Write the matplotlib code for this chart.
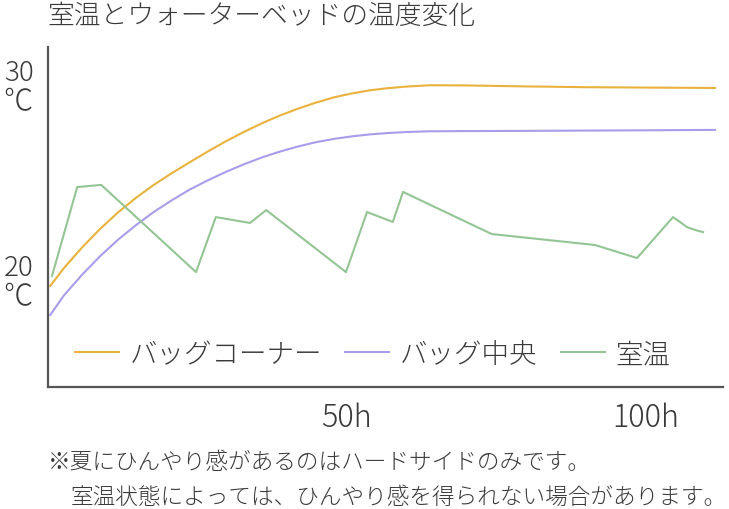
import matplotlib
matplotlib.use("Agg")
import matplotlib.pyplot as plt

plt.rcParams['font.family'] = ['Noto Sans CJK JP', 'DejaVu Sans']
plt.rcParams['font.weight'] = 'light'

# data (hours, deg C)
corner_h = [0.7, 3, 6, 9, 12, 15, 18, 21, 24, 27, 30, 33, 36, 39, 42, 45, 48, 51, 54, 57, 60, 64, 70, 80, 90, 100, 111.5]
corner_t = [19.03, 19.95, 21.0, 21.95, 22.8, 23.55, 24.22, 24.82, 25.38, 25.93, 26.45, 26.93, 27.37, 27.77, 28.12,
            28.43, 28.7, 28.9, 29.06, 29.17, 29.25, 29.32, 29.31, 29.26, 29.22, 29.2, 29.18]

center_h = [0.7, 3, 6, 9, 12, 15, 18, 21, 24, 27, 30, 33, 36, 39, 42, 45, 48, 51, 54, 57, 60, 64, 70, 80, 100, 111.5]
center_t = [17.54, 18.55, 19.6, 20.55, 21.4, 22.15, 22.83, 23.43, 23.98, 24.45, 24.88, 25.27, 25.62, 25.92, 26.18,
            26.4, 26.57, 26.7, 26.8, 26.87, 26.92, 26.96, 26.97, 26.98, 27.01, 27.03]

room_h = [1.0, 5.2, 9.2, 25.0, 28.3, 34.0, 36.7, 50.0, 53.5, 57.8, 59.5, 74.3, 91.5, 98.5, 104.5, 105.8, 106.8, 108.2, 109.5]
room_t = [19.54, 24.10, 24.21, 19.74, 22.56, 22.26, 22.92, 19.74, 22.82, 22.31, 23.85, 21.69, 21.13, 20.46, 22.56,
          22.28, 22.05, 21.90, 21.79]

series = ['バッグコーナー', 'バッグ中央', '室温']
colors = ['#E9B23C', '#A99CEB', '#93C595']

x_ticks = [50, 100]
x_labels = ['50h', '100h']
y_ticks = [30, 20]
y_labels = ['30', '20']

title = '室温とウォーターベッドの温度変化'
note1 = '※夏にひんやり感があるのはハードサイドのみです。'
note2 = '室温状態によっては、ひんやり感を得られない場合があります。'

txt = '#3a3a3a'

fig = plt.figure(figsize=(7.29, 5.10), dpi=100)
ax = fig.add_axes([48 / 729, 1 - 388 / 510, 675 / 729, 340 / 510])

ax.plot(corner_h, corner_t, color=colors[0], lw=1.5, label=series[0])
ax.plot(center_h, center_t, color=colors[1], lw=1.5, label=series[1])
ax.plot(room_h, room_t, color=colors[2], lw=1.5, label=series[2])

ax.set_xlim(0.333, 112.83)
ax.set_ylim(13.85, 31.28)

for s in ['top', 'right']:
    ax.spines[s].set_visible(False)
for s in ['left', 'bottom']:
    ax.spines[s].set_color('#555555')
    ax.spines[s].set_linewidth(1.6)

ax.set_xticks(x_ticks)
ax.set_xticklabels(x_labels, fontsize=22, color=txt)
ax.tick_params(axis='x', length=0, pad=10)
ax.set_yticks([])

tr = ax.get_yaxis_transform()
for v, lab in zip(y_ticks, y_labels):
    ax.text(-0.021, v, lab, transform=tr, ha='right', va='center', fontsize=20, color=txt)
    ax.text(-0.023, v - 29 / 19.5, '℃', transform=tr, ha='right', va='center', fontsize=21, color=txt)

leg = ax.legend(loc='center left', bbox_to_anchor=(75 / 729, 1 - 355 / 510),
                bbox_transform=fig.transFigure, ncol=3, frameon=False,
                fontsize=19.8, handlelength=1.6, handletextpad=0.38,
                columnspacing=0.85, borderpad=0, borderaxespad=0)
for t in leg.get_texts():
    t.set_color(txt)

fig.text(47 / 729, 1 - 16 / 510, title, ha='left', va='center', fontsize=19.3, color=txt)
fig.text(48 / 729, 1 - 463 / 510, note1, ha='left', va='center', fontsize=16.3, color=txt)
fig.text(71 / 729, 1 - 497 / 510, note2, ha='left', va='center', fontsize=16.3, color=txt)

fig.savefig('out.png', dpi=100)
plt.close()
